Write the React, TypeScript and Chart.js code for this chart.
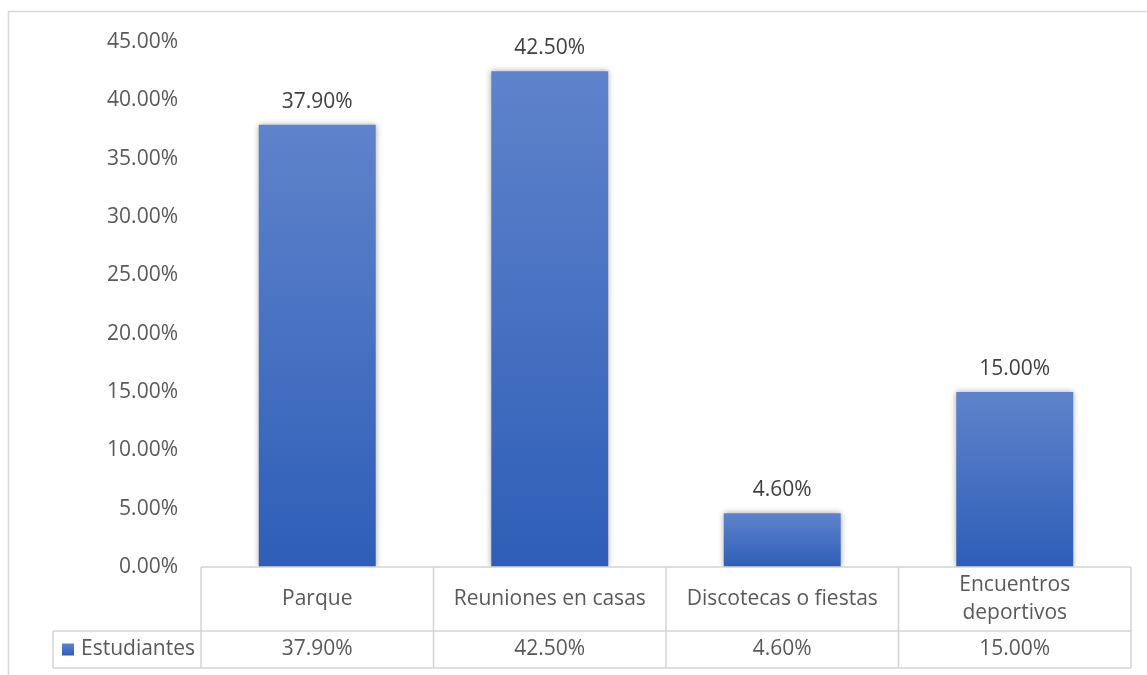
import React, { useEffect, useRef } from "react";
import { Chart, registerables } from "chart.js";

Chart.register(...registerables);

const categories: string[][] = [["Parque"], ["Reuniones en casas"], ["Discotecas o fiestas"], ["Encuentros", "deportivos"]];
const seriesName = "Estudiantes";
const values: number[] = [37.9, 42.5, 4.6, 15.0];
const yMin = 0;
const yMax = 45;
const yStep = 5;

const FONT = "'Open Sans', 'Noto Sans', sans-serif";
const FS = 21;
const TEXT = "#595959";
const LABEL = "#404040";
const LINE = "#D9D9D9";
const TOP_C = "#5F83CB";
const BOT_C = "#2E5EB8";

const fmt = (v: number) => v.toFixed(2) + "%";

const tablePlugin = {
  id: "dataTable",
  beforeDatasetsDraw(chart: any) {
    const ctx = chart.ctx;
    ctx.save();
    ctx.shadowColor = "rgba(0,0,0,0.35)";
    ctx.shadowBlur = 6;
    ctx.shadowOffsetX = 0;
    ctx.shadowOffsetY = 0;
  },
  afterDatasetsDraw(chart: any) {
    const ctx = chart.ctx;
    ctx.restore();
    const meta = chart.getDatasetMeta(0);
    ctx.save();
    ctx.font = `${FS}px ${FONT}`;
    ctx.fillStyle = LABEL;
    ctx.textAlign = "center";
    ctx.textBaseline = "alphabetic";
    meta.data.forEach((el: any, i: number) => {
      ctx.fillText(fmt(values[i]), el.x, el.y - 17);
    });
    ctx.restore();
  },
  afterDraw(chart: any) {
    const ctx = chart.ctx;
    const area = chart.chartArea;
    const xs = chart.scales.x;
    const n = categories.length;
    const left = area.left;
    const right = area.right;
    const colW = (right - left) / n;
    const top = area.bottom;
    const mid = top + 64;
    const bot = mid + 37;
    const labelLeft = 53;
    ctx.save();
    // outer frame
    ctx.strokeStyle = LINE;
    ctx.lineWidth = 1.5;
    ctx.beginPath();
    ctx.moveTo(8.5, 700);
    ctx.lineTo(8.5, 11.5);
    ctx.lineTo(1160, 11.5);
    ctx.stroke();
    // table lines
    ctx.strokeStyle = "#D4D4D4";
    ctx.lineWidth = 1.5;
    ctx.beginPath();
    ctx.moveTo(left, top);
    ctx.lineTo(right, top);
    ctx.moveTo(labelLeft, mid);
    ctx.lineTo(right, mid);
    ctx.moveTo(labelLeft, bot);
    ctx.lineTo(right, bot);
    ctx.moveTo(labelLeft, mid);
    ctx.lineTo(labelLeft, bot);
    for (let k = 0; k <= n; k++) {
      const x = left + colW * k;
      ctx.moveTo(x, top);
      ctx.lineTo(x, bot);
    }
    ctx.stroke();
    // texts
    ctx.font = `${FS}px ${FONT}`;
    ctx.fillStyle = TEXT;
    ctx.textAlign = "center";
    ctx.textBaseline = "middle";
    categories.forEach((lines, i) => {
      const cx = xs.getPixelForValue(i);
      const cy = (top + mid) / 2;
      const lh = 28;
      lines.forEach((t, j) => {
        ctx.fillText(t, cx, cy + (j - (lines.length - 1) / 2) * lh);
      });
      ctx.fillText(fmt(values[i]), cx, (mid + bot) / 2);
    });
    // legend key
    const ky = (mid + bot) / 2;
    const g = ctx.createLinearGradient(0, ky - 6, 0, ky + 6);
    g.addColorStop(0, TOP_C);
    g.addColorStop(1, BOT_C);
    ctx.fillStyle = g;
    ctx.fillRect(62, ky - 6, 12, 12);
    ctx.fillStyle = TEXT;
    ctx.textAlign = "left";
    ctx.fillText(seriesName, 81, ky);
    ctx.restore();
  },
};

export default function App() {
  const ref = useRef<HTMLCanvasElement>(null);
  useEffect(() => {
    if (!ref.current) return;
    const chart = new Chart(ref.current, {
      type: "bar",
      data: {
        labels: categories.map((c) => c.join(" ")),
        datasets: [
          {
            label: seriesName,
            data: values,
            categoryPercentage: 1,
            barPercentage: 0.503,
            borderWidth: 0,
            backgroundColor: (c: any) => {
              const chart = c.chart;
              const { chartArea, scales } = chart;
              if (!chartArea || !scales.y || c.type !== "data") return BOT_C;
              const y = scales.y.getPixelForValue(c.raw);
              const base = scales.y.getPixelForValue(0);
              const g = chart.ctx.createLinearGradient(0, y, 0, base);
              g.addColorStop(0, TOP_C);
              g.addColorStop(1, BOT_C);
              return g;
            },
          },
        ],
      },
      options: {
        responsive: false,
        animation: false,
        layout: { padding: { left: 81, right: 16, top: 42, bottom: 108 } },
        plugins: { legend: { display: false }, tooltip: { enabled: false } },
        scales: {
          x: { display: false },
          y: {
            min: yMin,
            max: yMax,
            afterFit: (axis: any) => {
              axis.width = 120;
            },
            grid: { display: false },
            border: { display: false },
            ticks: {
              stepSize: yStep,
              padding: 15,
              color: TEXT,
              font: { family: FONT, size: FS },
              callback: (v: any) => fmt(Number(v)),
            },
          },
        },
      },
      plugins: [tablePlugin],
    });
    return () => chart.destroy();
  }, []);
  return (
    <div style={{ position: "fixed", left: 0, top: 0, width: 1147, height: 675, background: "#fff" }}>
      <canvas ref={ref} width={1147} height={675} />
    </div>
  );
}
